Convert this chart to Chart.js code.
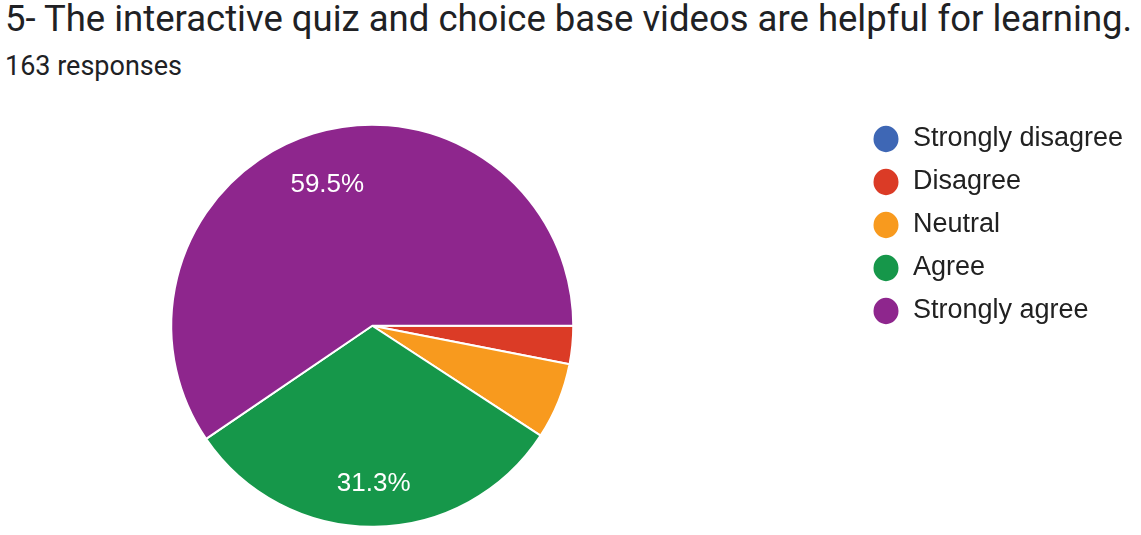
<!DOCTYPE html>
<html>
<head>
<meta charset="utf-8">
<script src="https://cdn.jsdelivr.net/npm/chart.js@4/dist/chart.umd.min.js"></script>
<style>
  body { margin: 0; background: #fff; width: 1141px; height: 535px; overflow: hidden; position: relative; }
  .title { position: absolute; left: 5px; top: 1px; font: 36.5px/36.5px Roboto, sans-serif; color: #202124; white-space: nowrap; }
  .sub { position: absolute; left: 5px; top: 53px; font: 27px/27px Roboto, sans-serif; color: #202124; white-space: nowrap; }
  /* canvas starts left of the page so the pie can sit at x=371 with the legend at the right */
  #chart { position: absolute; left: -112px; top: 0; }
</style>
</head>
<body>
<div class="title">5- The interactive quiz and choice base videos are helpful for learning.</div>
<div class="sub">163 responses</div>
<canvas id="chart" width="1253" height="542"></canvas>
<script>
const answers = ['Strongly disagree', 'Disagree', 'Neutral', 'Agree', 'Strongly agree'];
const responses = [0, 5, 10, 51, 97];
const sliceColors = ['#3e67b5', '#db3b26', '#f89a1e', '#16974a', '#8e268d'];

const total = responses.reduce((a, b) => a + b, 0);

// percentage text inside the big slices
const sliceLabels = {
    id: 'sliceLabels',
    afterDatasetsDraw(chart) {
        const ctx = chart.ctx;
        const meta = chart.getDatasetMeta(0);
        ctx.save();
        ctx.font = '26px "Liberation Sans", Arial, sans-serif';
        ctx.fillStyle = '#fff';
        ctx.textAlign = 'center';
        ctx.textBaseline = 'middle';
        meta.data.forEach((arc, i) => {
            const pct = responses[i] / total * 100;
            if (pct < 10) return;
            const p = arc.getProps(['x', 'y', 'startAngle', 'endAngle', 'outerRadius'], true);
            const mid = (p.startAngle + p.endAngle) / 2;
            const r = p.outerRadius * 0.76;
            ctx.fillText(pct.toFixed(1) + '%', p.x + Math.cos(mid) * r, p.y + Math.sin(mid) * r + 5);
        });
        ctx.restore();
    }
};

const chart = new Chart(document.getElementById('chart'), {
    type: 'pie',
    data: {
        labels: answers,
        datasets: [{
            data: responses,
            backgroundColor: sliceColors,
            borderColor: '#fff',
            borderWidth: 2,
            radius: 201
        }]
    },
    options: {
        responsive: false,
        animation: false,
        rotation: 90,
        layout: { padding: { left: 0, top: 109.5, bottom: 0, right: 0 } },
        plugins: {
            tooltip: { enabled: false },
            legend: {
                position: 'right',
                align: 'start',
                labels: {
                    usePointStyle: true,
                    pointStyle: 'circle',
                    pointStyleWidth: 27,
                    boxHeight: 20,
                    padding: 16,
                    color: '#212121',
                    font: { size: 27, family: '"Liberation Sans", Arial, sans-serif' }
                }
            }
        }
    },
    plugins: [sliceLabels]
});

// legend left edge at canvas x=968.5 (page x=856.5)
chart.options.layout.padding.right = 1253 - 968.5 - chart.legend.width;
chart.update('none');
</script>
</body>
</html>
